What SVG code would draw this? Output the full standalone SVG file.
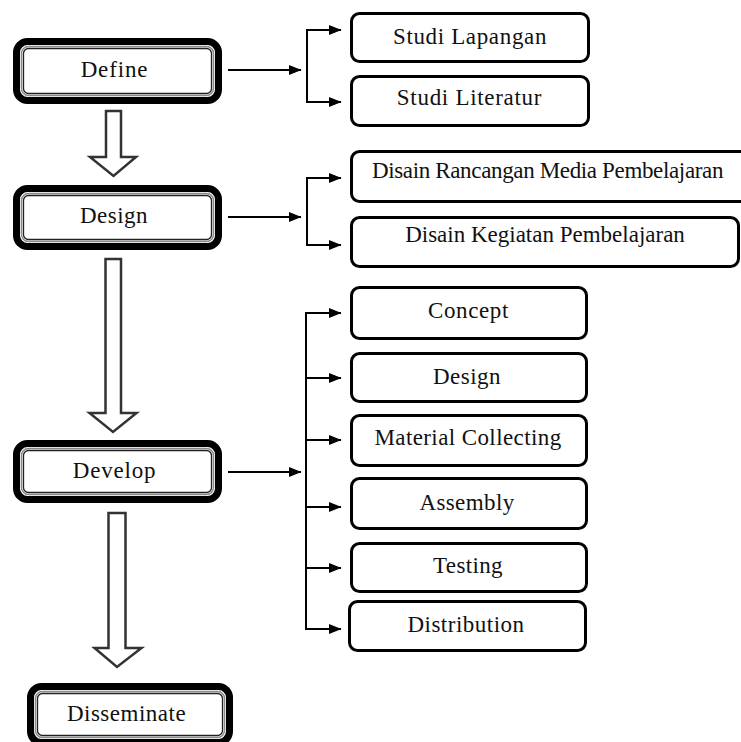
<svg xmlns="http://www.w3.org/2000/svg" width="741" height="742" viewBox="0 0 741 742">
<style>
text{font-family:"Liberation Serif","Times New Roman",serif;font-size:23px;fill:#111;text-anchor:middle}
.outer{fill:#fff;stroke:#000;stroke-width:7}
.g{fill:none;stroke:#8a8a8a;stroke-width:1.5}
.b{fill:none;stroke:#222;stroke-width:1.3}
.box{fill:#fff;stroke:#000;stroke-width:3}
.con{fill:none;stroke:#000;stroke-width:2}
.hollow{fill:#fff;stroke:#333;stroke-width:2.5;stroke-linejoin:miter}
</style>
<defs>
<marker id="ah" markerUnits="userSpaceOnUse" markerWidth="13" markerHeight="11" refX="12" refY="5.5" orient="auto-start-reverse">
<path d="M0,0.5 L12.5,5.5 L0,10.5 z" fill="#000"/>
</marker>
</defs>
<rect width="741" height="742" fill="#fff"/>

<g id="hollow-arrows">
<polygon class="hollow" points="106,111 121,111 121,157 136,157 113.5,176 90,157 106,157"/>
<polygon class="hollow" points="105.5,259 121,259 121,413 136.5,413 113,432 89.5,413 105.5,413"/>
<polygon class="hollow" points="108.5,513 125.5,513 125.5,648 141.5,648 117,667 94.5,648 108.5,648"/>
</g>

<g id="connectors">
<path class="con" d="M228,70 H301" marker-end="url(#ah)"/>
<path class="con" d="M341,30 H307 V102 H341" marker-start="url(#ah)" marker-end="url(#ah)"/>
<path class="con" d="M228,217 H301" marker-end="url(#ah)"/>
<path class="con" d="M341,178 H307 V245 H341" marker-start="url(#ah)" marker-end="url(#ah)"/>
<path class="con" d="M228,472 H301" marker-end="url(#ah)"/>
<path class="con" d="M341,313 H306 V629 H341" marker-start="url(#ah)" marker-end="url(#ah)"/>
<path class="con" d="M306,378 H341" marker-end="url(#ah)"/>
<path class="con" d="M306,440 H341" marker-end="url(#ah)"/>
<path class="con" d="M306,507 H341" marker-end="url(#ah)"/>
<path class="con" d="M306,568 H341" marker-end="url(#ah)"/>
</g>

<g id="define">
<rect class="outer" x="16.5" y="41.5" width="202" height="59" rx="11"/>
<rect class="g" x="21.5" y="46.5" width="192" height="49" rx="7"/>
<rect class="b" x="23.5" y="48.5" width="188" height="45" rx="5"/>
<text x="114.5" y="77" letter-spacing="0.85">Define</text>
</g>
<g id="design">
<rect class="outer" x="16.5" y="188.5" width="202" height="58" rx="11"/>
<rect class="g" x="21.5" y="193.5" width="192" height="48" rx="7"/>
<rect class="b" x="23.5" y="195.5" width="188" height="44" rx="5"/>
<text x="114" y="223" letter-spacing="0.45">Design</text>
</g>
<g id="develop">
<rect class="outer" x="16.5" y="443.5" width="202" height="56" rx="11"/>
<rect class="g" x="21.5" y="448.5" width="192" height="46" rx="7"/>
<rect class="b" x="23.5" y="450.5" width="188" height="42" rx="5"/>
<text x="114.5" y="478" letter-spacing="0.8">Develop</text>
</g>
<g id="disseminate">
<rect class="outer" x="30.5" y="686.5" width="199" height="56" rx="11"/>
<rect class="g" x="35.5" y="691.5" width="189" height="46" rx="7"/>
<rect class="b" x="37.5" y="693.5" width="185" height="42" rx="5"/>
<text x="126.5" y="721" letter-spacing="0.5">Disseminate</text>
</g>

<g id="studi-lapangan">
<rect class="box" x="351.5" y="13.5" width="237" height="48" rx="8"/>
<text x="470" y="44" letter-spacing="0.65">Studi Lapangan</text>
</g>
<g id="studi-literatur">
<rect class="box" x="351.5" y="76.5" width="237" height="49" rx="8"/>
<text x="469.5" y="105" letter-spacing="0.7">Studi Literatur</text>
</g>
<g id="disain-rancangan">
<rect class="box" x="351.5" y="151.5" width="420" height="50" rx="8"/>
<text x="547.5" y="178" letter-spacing="-0.35">Disain Rancangan Media Pembelajaran</text>
</g>
<g id="disain-kegiatan">
<rect class="box" x="351.5" y="217.5" width="387" height="49" rx="8"/>
<text x="545" y="242">Disain Kegiatan Pembelajaran</text>
</g>
<g id="concept">
<rect class="box" x="351.5" y="287.5" width="235" height="51" rx="8"/>
<text x="468.5" y="318" letter-spacing="0.6">Concept</text>
</g>
<g id="design-2">
<rect class="box" x="351.5" y="353.5" width="235" height="48" rx="8"/>
<text x="467" y="384" letter-spacing="0.45">Design</text>
</g>
<g id="material-collecting">
<rect class="box" x="351.5" y="415.5" width="235" height="50" rx="8"/>
<text x="468" y="445" letter-spacing="0.4">Material Collecting</text>
</g>
<g id="assembly">
<rect class="box" x="351.5" y="478.5" width="235" height="50" rx="8"/>
<text x="467" y="510" letter-spacing="0.4">Assembly</text>
</g>
<g id="testing">
<rect class="box" x="351.5" y="543.5" width="235" height="48" rx="8"/>
<text x="468" y="573" letter-spacing="0.35">Testing</text>
</g>
<g id="distribution">
<rect class="box" x="349.5" y="601.5" width="236" height="49" rx="8"/>
<text x="466" y="632" letter-spacing="0.5">Distribution</text>
</g>
</svg>
